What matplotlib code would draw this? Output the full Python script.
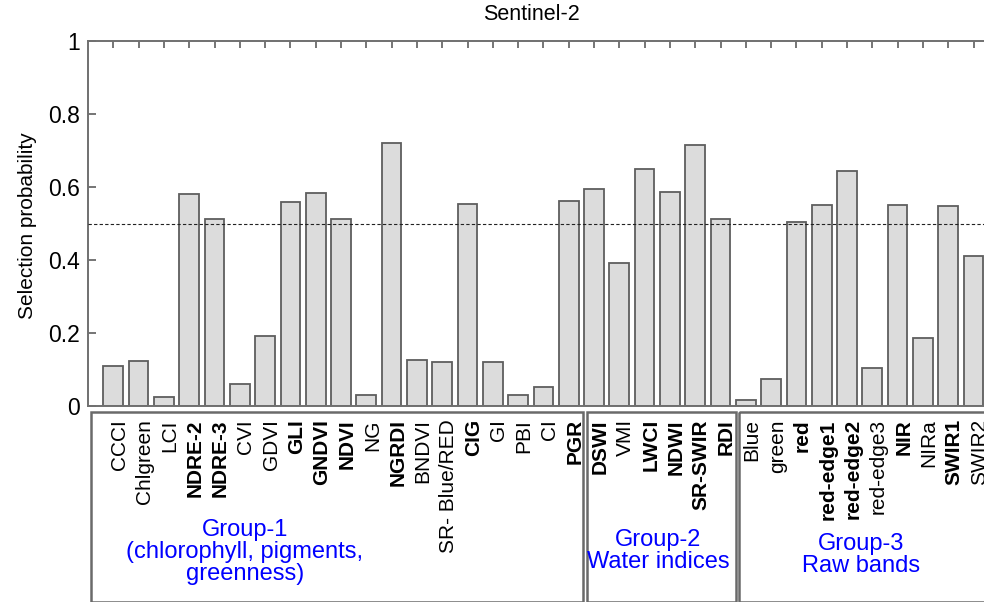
import numpy as np
import matplotlib
matplotlib.use("Agg")
import matplotlib.pyplot as plt
from matplotlib.patches import Rectangle
import matplotlib.transforms as mtransforms

plt.rcParams['font.family'] = ['Liberation Sans', 'DejaVu Sans']

# selection probability per predictor
names = ["CCCI", "Chlgreen", "LCI", "NDRE-2", "NDRE-3", "CVI", "GDVI", "GLI", "GNDVI", "NDVI",
         "NG", "NGRDI", "BNDVI", "SR- Blue/RED", "CIG", "GI", "PBI", "CI", "PGR",
         "DSWI", "VMI", "LWCI", "NDWI", "SR-SWIR", "RDI",
         "Blue", "green", "red", "red-edge1", "red-edge2", "red-edge3", "NIR", "NIRa", "SWIR1", "SWIR2"]
probs = [0.110, 0.122, 0.025, 0.582, 0.512, 0.061, 0.192, 0.560, 0.584, 0.511,
         0.031, 0.721, 0.126, 0.121, 0.553, 0.121, 0.031, 0.053, 0.562,
         0.595, 0.393, 0.649, 0.585, 0.715, 0.511,
         0.017, 0.073, 0.503, 0.551, 0.644, 0.104, 0.550, 0.187, 0.548, 0.412]
selected = ["NDRE-2", "NDRE-3", "GLI", "GNDVI", "NDVI", "NGRDI", "CIG", "PGR",
            "DSWI", "LWCI", "NDWI", "SR-SWIR", "RDI",
            "red", "red-edge1", "red-edge2", "NIR", "SWIR1"]
threshold = 0.5

group_labels = ["Group-1\n(chlorophyll, pigments,\ngreenness)", "Group-2\nWater indices", "Group-3\nRaw bands"]
group_spans = [(0.1, 19.58), (19.72, 25.6), (25.72, 36.5)]
group_text_x = [6.2, 22.55, 30.55]
group_text_y = [-0.40, -0.397, -0.407]

x = np.arange(1, len(names) + 1)

fig = plt.figure(figsize=(9.84, 6.02), dpi=100)
ax = fig.add_axes([88 / 984, 1 - 406 / 602, 36 * 25.3 / 984, 365 / 602])

edge = "#5e5e5e"
ax.bar(x, probs, width=0.78, color="#dcdcdc", edgecolor=edge, linewidth=1.3, zorder=2)
ax.axhline(threshold, color="#222222", linestyle=(0, (3, 2)), linewidth=0.8, zorder=3)

ax.set_xlim(0, 36)
ax.set_ylim(0, 1)
ax.set_yticks([0, 0.2, 0.4, 0.6, 0.8, 1])
ax.set_yticklabels(["0", "0.2", "0.4", "0.6", "0.8", "1"])
ax.set_xticks(x)
ax.set_xticklabels([])
ax.tick_params(axis="x", direction="in", top=True, bottom=False, length=5, width=1.2, color=edge)
ax.tick_params(axis="y", direction="in", left=True, right=False, length=6, width=1.2, color=edge,
               labelsize=16.5, pad=6)
for s in ax.spines.values():
    s.set_color("#707070")
    s.set_linewidth(1.4)

# predictor names below the axis, bold when selected
lab_tr = mtransforms.blended_transform_factory(ax.transData, ax.transAxes)
for xi, n in zip(x, names):
    ax.text(xi + 0.24, -0.036, n, rotation=90, ha="center", va="top", fontsize=15,
            fontweight="bold" if n in selected else "normal", transform=lab_tr, clip_on=False)

# group boxes
for (a, b), lab, tx, ty in zip(group_spans, group_labels, group_text_x, group_text_y):
    ax.add_patch(Rectangle((a, -0.0164), b - a, -0.52, transform=lab_tr, fill=False,
                           edgecolor="#6a6a6a", linewidth=1.8, clip_on=False))
    ax.text(tx, ty, lab, ha="center", va="center", color="#0000ff", fontsize=17,
            linespacing=1.0, transform=lab_tr, clip_on=False)

fig.text(531 / 984, 1 - 15 / 602, "Sentinel-2", ha="center", va="center", fontsize=15.5)
fig.text(28 / 984, 1 - 226 / 602, "Selection probability", rotation=90, ha="center", va="center",
         fontsize=15)

fig.savefig("out.png", dpi=100)
